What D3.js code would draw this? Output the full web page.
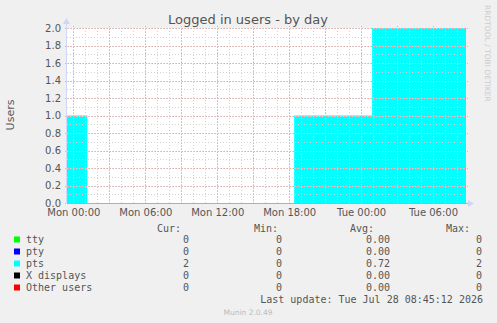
<!DOCTYPE html>
<html>
<head>
<meta charset="utf-8">
<script src="https://cdn.jsdelivr.net/npm/d3@7"></script>
<style>
  body { margin: 0; background: #f0f0f0; }
  svg { display: block; }
</style>
</head>
<body>
<div id="chart"></div>
<script>
// Data: pts sessions as step change points (time, users)
let ptsTimes = [
  new Date(2026, 6, 26, 23, 28),
  new Date(2026, 6, 27, 1, 10),
  new Date(2026, 6, 27, 18, 25),
  new Date(2026, 6, 28, 0, 55),
  new Date(2026, 6, 28, 8, 45)
];
let ptsValues = [1, 0, 1, 2, 2];

// legend rows
let seriesNames = ["tty", "pty", "pts", "X displays", "Other users"];
let seriesColors = ["#00ff00", "#0000ff", "#00ffff", "#000000", "#ff0000"];
let curVals = ["0", "0", "2", "0", "0"];
let minVals = ["0", "0", "0", "0", "0"];
let avgVals = ["0.00", "0.00", "0.72", "0.00", "0.00"];
let maxVals = ["0", "0", "2", "0", "0"];

let yTicks = [0, 0.2, 0.4, 0.6, 0.8, 1.0, 1.2, 1.4, 1.6, 1.8, 2.0];

// svg attributes
let svgWidth = 497;
let svgHeight = 323;
let plotLeft = 67, plotRight = 466, plotTop = 28, plotBottom = 203;

let svg = d3.select("#chart")
  .append("svg")
  .attr("width", svgWidth)
  .attr("height", svgHeight);

svg.append("rect")
  .attr("width", svgWidth).attr("height", svgHeight)
  .attr("fill", "#f0f0f0");

let xScale = d3.scaleTime()
  .domain([ptsTimes[0], ptsTimes[ptsTimes.length - 1]])
  .range([plotLeft, plotRight]);

let yScale = d3.scaleLinear()
  .domain([0, 2])
  .range([plotBottom, plotTop]);

// plot background
svg.append("rect")
  .attr("x", plotLeft).attr("y", plotTop)
  .attr("width", plotRight - plotLeft).attr("height", plotBottom - plotTop)
  .attr("fill", "#ffffff");

// stacked area (only pts is non-zero)
let ptsData = ptsTimes.map((t, i) => ({ t: t, v: ptsValues[i] }));
let area = d3.area()
  .x(d => xScale(d.t))
  .y0(yScale(0))
  .y1(d => yScale(d.v))
  .curve(d3.curveStepAfter);

svg.append("path")
  .datum(ptsData)
  .attr("d", area)
  .attr("fill", "#00ffff");

// grid on top of data
let grid = svg.append("g");
let minorX = d3.timeHour.every(1).range(xScale.domain()[0], xScale.domain()[1]);
let majorX = d3.timeHour.every(3).range(xScale.domain()[0], xScale.domain()[1]);
let minorY = d3.range(0, 21).map(d => d / 10);

grid.selectAll(".minx").data(minorX).enter().append("line")
  .attr("x1", d => Math.round(xScale(d)) + 0.5).attr("x2", d => Math.round(xScale(d)) + 0.5)
  .attr("y1", plotTop).attr("y2", plotBottom)
  .attr("stroke", "#d2d2d2").attr("stroke-dasharray", "1,2");

grid.selectAll(".miny").data(minorY).enter().append("line")
  .attr("x1", plotLeft).attr("x2", plotRight)
  .attr("y1", d => Math.round(yScale(d)) + 0.5).attr("y2", d => Math.round(yScale(d)) + 0.5)
  .attr("stroke", "#d2d2d2").attr("stroke-dasharray", "1,2");

grid.selectAll(".majx").data(majorX).enter().append("line")
  .attr("x1", d => Math.round(xScale(d)) + 0.5).attr("x2", d => Math.round(xScale(d)) + 0.5)
  .attr("y1", plotTop - 2).attr("y2", plotBottom + 2)
  .attr("stroke", "#ecaaaa").attr("stroke-dasharray", "1,2");

grid.selectAll(".majy").data(yTicks).enter().append("line")
  .attr("x1", plotLeft - 2).attr("x2", plotRight + 2)
  .attr("y1", d => Math.round(yScale(d)) + 0.5).attr("y2", d => Math.round(yScale(d)) + 0.5)
  .attr("stroke", "#ecaaaa").attr("stroke-dasharray", "1,2");

// axes lines and arrows
svg.append("line")
  .attr("x1", plotLeft - 0.5).attr("x2", plotLeft - 0.5)
  .attr("y1", plotBottom).attr("y2", plotTop - 6)
  .attr("stroke", "#cfd6f8");
svg.append("path")
  .attr("d", `M${plotLeft - 4},${plotTop - 4} L${plotLeft - 0.5},${plotTop - 10} L${plotLeft + 3},${plotTop - 4} Z`)
  .attr("fill", "#cfd6f8");
svg.append("line")
  .attr("x1", plotLeft).attr("x2", plotRight + 4)
  .attr("y1", plotBottom + 0.5).attr("y2", plotBottom + 0.5)
  .attr("stroke", "#e09a9a");
svg.append("path")
  .attr("d", `M${plotRight + 2},${plotBottom - 3} L${plotRight + 8},${plotBottom + 0.5} L${plotRight + 2},${plotBottom + 4} Z`)
  .attr("fill", "#cfd6f8");

// axis labels via d3 axes
let xAxis = d3.axisBottom(xScale)
  .tickValues(d3.timeHour.every(6).range(xScale.domain()[0], xScale.domain()[1]))
  .tickFormat(d3.timeFormat("%a %H:%M"))
  .tickSize(0).tickPadding(6);
let gx = svg.append("g")
  .attr("transform", `translate(0,${plotBottom})`)
  .call(xAxis);

let yAxis = d3.axisLeft(yScale)
  .tickValues(yTicks)
  .tickFormat(d3.format(".1f"))
  .tickSize(0).tickPadding(6);
let gy = svg.append("g")
  .attr("transform", `translate(${plotLeft},0)`)
  .call(yAxis);

[gx, gy].forEach(g => {
  g.select(".domain").remove();
  g.selectAll("text")
    .attr("font-family", "DejaVu Sans")
    .attr("font-size", 10)
    .attr("fill", "#555");
});

// title and side texts
svg.append("text")
  .attr("x", 248).attr("y", 24)
  .attr("text-anchor", "middle")
  .attr("font-family", "DejaVu Sans").attr("font-size", 13)
  .attr("fill", "#555")
  .text("Logged in users - by day");

svg.append("text")
  .attr("transform", "translate(14,115) rotate(-90)")
  .attr("text-anchor", "middle")
  .attr("font-family", "DejaVu Sans").attr("font-size", 11)
  .attr("fill", "#555")
  .text("Users");

svg.append("text")
  .attr("transform", "translate(485,5) rotate(90)")
  .attr("font-family", "DejaVu Sans").attr("font-size", 7.5)
  .attr("fill", "#cccccc")
  .text("RRDTOOL / TOBI OETIKER");

// legend
let mono = "DejaVu Sans Mono";
let legend = svg.append("g")
  .attr("font-family", mono).attr("font-size", 10).attr("fill", "#555");

let headers = [["Cur:", 181], ["Min:", 278], ["Avg:", 374], ["Max:", 470]];
legend.selectAll(".hdr").data(headers).enter().append("text")
  .attr("x", d => d[1]).attr("y", 232)
  .attr("text-anchor", "end")
  .text(d => d[0]);

let rowY = d3.scalePoint().domain(seriesNames).range([243, 291]);

let rows = legend.selectAll(".row").data(seriesNames).enter().append("g");
rows.append("rect")
  .attr("x", 14).attr("y", d => rowY(d) - 6.5)
  .attr("width", 6).attr("height", 6)
  .attr("fill", (d, i) => seriesColors[i]);
rows.append("text").attr("x", 26).attr("y", d => rowY(d)).text(d => d);
rows.append("text").attr("x", 189).attr("y", d => rowY(d)).attr("text-anchor", "end").text((d, i) => curVals[i]);
rows.append("text").attr("x", 282).attr("y", d => rowY(d)).attr("text-anchor", "end").text((d, i) => minVals[i]);
rows.append("text").attr("x", 390).attr("y", d => rowY(d)).attr("text-anchor", "end").text((d, i) => avgVals[i]);
rows.append("text").attr("x", 482).attr("y", d => rowY(d)).attr("text-anchor", "end").text((d, i) => maxVals[i]);

legend.append("text")
  .attr("x", 483).attr("y", 303)
  .attr("text-anchor", "end")
  .text("Last update: Tue Jul 28 08:45:12 2026");

svg.append("text")
  .attr("x", 248).attr("y", 315)
  .attr("text-anchor", "middle")
  .attr("font-family", "DejaVu Sans").attr("font-size", 7.5)
  .attr("fill", "#bbb")
  .text("Munin 2.0.49");
</script>
</body>
</html>
